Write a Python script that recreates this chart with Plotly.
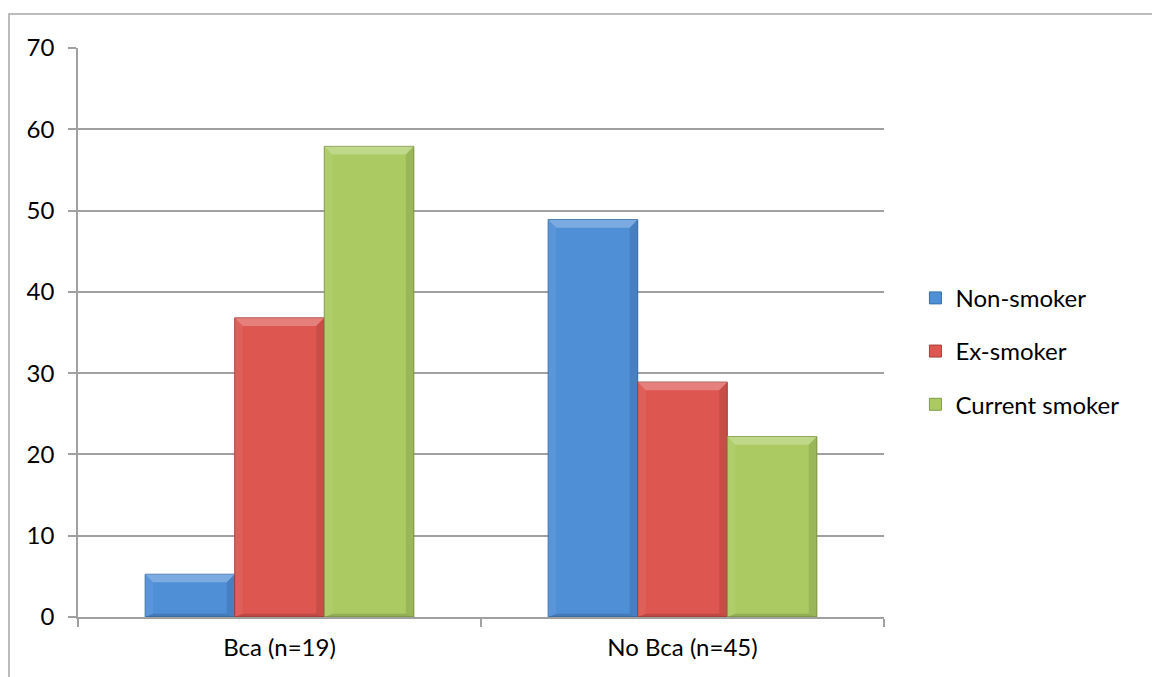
import plotly.graph_objects as go

categories = ["Bca (n=19)", "No Bca (n=45)"]
series_names = ["Non-smoker", "Ex-smoker", "Current smoker"]
non_smoker = [5.26, 48.9]
ex_smoker = [36.8, 28.9]
current_smoker = [57.9, 22.2]
y_ticks = [0, 10, 20, 30, 40, 50, 60, 70]

series_values = [non_smoker, ex_smoker, current_smoker]
fills = ["#4F8FD6", "#DE5650", "#ABCB62"]
edges = ["#3A6FA8", "#A83E3A", "#7F9A45"]

FONT = "Lato, 'Open Sans', sans-serif"
FS = 24
BARGAP = 1 / 3
bar_w = (1 - BARGAP) / len(series_names)

fig = go.Figure()
for name, vals, fc, ec in zip(series_names, series_values, fills, edges):
    fig.add_trace(go.Bar(
        name=name, x=categories, y=vals, legendgroup=name,
        marker=dict(color=fc, line=dict(color=ec, width=1)),
    ))

# bevel highlights / shadows derived from each bar's value
bx = 0.02   # horizontal bevel depth in category units
by = 1.0    # vertical bevel depth in data units
shapes = []
for si, vals in enumerate(series_values):
    for ci, v in enumerate(vals):
        cx = ci + (si - 1) * bar_w
        x0, x1 = cx - bar_w / 2, cx + bar_w / 2
        dy = min(by, v / 3)
        # top light band
        shapes.append(dict(
            type="path", xref="x", yref="y", layer="above", line=dict(width=0),
            fillcolor="rgba(255,255,255,0.25)",
            path=f"M {x0},{v} L {x1},{v} L {x1-bx},{v-dy} L {x0+bx},{v-dy} Z"))
        # left light band
        shapes.append(dict(
            type="path", xref="x", yref="y", layer="above", line=dict(width=0),
            fillcolor="rgba(255,255,255,0.06)",
            path=f"M {x0},{v} L {x0+bx},{v-dy} L {x0+bx},{dy*0.4} L {x0},0 Z"))
        # right shadow band
        shapes.append(dict(
            type="path", xref="x", yref="y", layer="above", line=dict(width=0),
            fillcolor="rgba(0,0,0,0.10)",
            path=f"M {x1},{v} L {x1-bx},{v-dy} L {x1-bx},{dy*0.4} L {x1},0 Z"))
        # bottom shadow band
        shapes.append(dict(
            type="path", xref="x", yref="y", layer="above", line=dict(width=0),
            fillcolor="rgba(0,0,0,0.14)",
            path=f"M {x0},0 L {x1},0 L {x1-bx},{dy*0.4} L {x0+bx},{dy*0.4} Z"))

# outer chart frame
shapes.append(dict(
    type="rect", xref="paper", yref="paper", layer="below",
    x0=-0.0856, x1=1.36, y0=-0.3, y1=1.0597,
    line=dict(color="#A6A6A6", width=1.5), fillcolor="rgba(0,0,0,0)"))

fig.update_layout(
    width=1152, height=677,
    margin=dict(l=78, r=268, t=48, b=59.5),
    paper_bgcolor="white", plot_bgcolor="white",
    barmode="group", bargap=BARGAP, bargroupgap=0,
    font=dict(family=FONT, size=FS, color="black"),
    shapes=shapes,
    showlegend=True,
    legend=dict(
        x=1.039, y=0.467, xanchor="left", yanchor="middle",
        font=dict(family=FONT, size=FS, color="black"),
        itemwidth=30, tracegroupgap=19, traceorder="grouped",
        bgcolor="rgba(0,0,0,0)",
    ),
    xaxis=dict(
        type="category", showline=True, linecolor="#A0A0A0", linewidth=1.5,
        ticks="outside", tickson="boundaries", ticklen=8, tickcolor="#A0A0A0",
        tickwidth=1.5, showgrid=False, ticklabelstandoff=8,
        tickfont=dict(family=FONT, size=FS),
    ),
    yaxis=dict(
        range=[0, 70], tickvals=y_ticks, showline=True, linecolor="#A0A0A0",
        linewidth=1.5, ticks="outside", ticklen=8, tickcolor="#A0A0A0",
        tickwidth=1.5, showgrid=True, gridcolor="#A0A0A0", gridwidth=1.5,
        zeroline=False, ticklabelstandoff=9,
        tickfont=dict(family=FONT, size=FS),
    ),
)

fig.write_html("out.html")
